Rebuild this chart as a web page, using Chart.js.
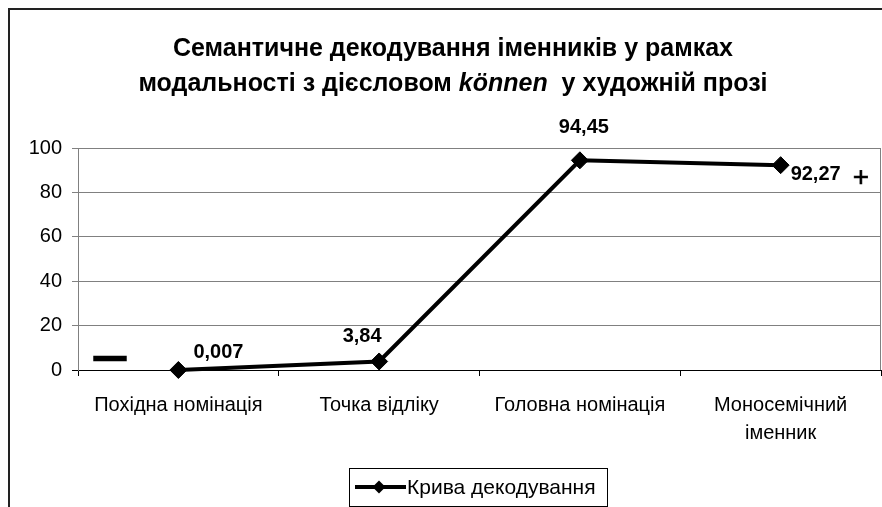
<!DOCTYPE html>
<html><head><meta charset="utf-8">
<script src="https://cdn.jsdelivr.net/npm/chart.js@4.4.0/dist/chart.umd.min.js"></script>
<style>
html,body{margin:0;padding:0;background:#fff;width:882px;height:507px;overflow:hidden;}
#wrap{position:relative;width:882px;height:507px;}
#title{position:absolute;left:0;top:30px;width:906px;text-align:center;font:bold 25px "Liberation Sans",Arial,sans-serif;line-height:35px;color:#000;}
canvas{position:absolute;left:0;top:0;}
</style></head><body>
<div id="wrap"><canvas id="c" width="882" height="507"></canvas>
<div id="title">Семантичне декодування іменників у рамках<br>модальності з дієсловом <i>können</i>&nbsp; у художній прозі</div></div>
<script>
const categories = ['Похідна номінація', 'Точка відліку', 'Головна номінація', ['Моносемічний', 'іменник']];
const seriesName = 'Крива декодування';
const decodingValues = [0.007, 3.84, 94.45, 92.27];
const yTickValues = [0, 20, 40, 60, 80, 100];
const sideMarks = ['—', '+'];

const FONT = '"Liberation Sans", Arial, sans-serif';
const labelPlacement = [
  {dx: 15, dy: -18, align: 'left'},
  {dx: -17, dy: -25, align: 'center'},
  {dx: 4, dy: -33, align: 'center'},
  {dx: 10, dy: 9, align: 'left'}
];

const decor = {
  id: 'decor',
  beforeDraw(chart) {
    const ctx = chart.ctx;
    ctx.save();
    ctx.fillStyle = '#fff';
    ctx.fillRect(0, 0, chart.width, chart.height);
    ctx.strokeStyle = '#222';
    ctx.lineWidth = 2;
    ctx.beginPath();
    ctx.moveTo(9, 507);
    ctx.lineTo(9, 9);
    ctx.lineTo(882, 9);
    ctx.stroke();
    const a = chart.chartArea;
    ctx.strokeStyle = '#808080';
    ctx.lineWidth = 1;
    ctx.beginPath();
    ctx.moveTo(a.right - 0.5, a.top);
    ctx.lineTo(a.right - 0.5, a.bottom);
    ctx.stroke();
    ctx.restore();
  },
  afterDraw(chart) {
    const ctx = chart.ctx;
    const meta = chart.getDatasetMeta(0);
    ctx.save();
    ctx.fillStyle = '#000';
    ctx.font = 'bold 20px ' + FONT;
    ctx.textBaseline = 'middle';
    meta.data.forEach((pt, i) => {
      const p = labelPlacement[i];
      ctx.textAlign = p.align;
      const txt = String(decodingValues[i]).replace('.', ',');
      ctx.fillText(txt, pt.x + p.dx, pt.y + p.dy);
    });
    ctx.textAlign = 'center';
    ctx.font = 'bold 31px ' + FONT;
    ctx.lineWidth = 2.5;
    ctx.strokeStyle = '#000';
    ctx.fillText(sideMarks[0], 110, 358);
    ctx.strokeText(sideMarks[0], 110, 358);
    ctx.font = '28px ' + FONT;
    ctx.lineWidth = 0.6;
    ctx.fillText(sideMarks[1], 861, 178);
    ctx.strokeText(sideMarks[1], 861, 178);
    // legend
    ctx.strokeStyle = '#000';
    ctx.lineWidth = 1;
    ctx.strokeRect(349.5, 468.5, 258, 38);
    ctx.lineWidth = 4;
    ctx.beginPath();
    ctx.moveTo(355, 487);
    ctx.lineTo(406, 487);
    ctx.stroke();
    ctx.beginPath();
    ctx.moveTo(379 - 6.5, 487);
    ctx.lineTo(379, 480.5);
    ctx.lineTo(379 + 6.5, 487);
    ctx.lineTo(379, 493.5);
    ctx.closePath();
    ctx.fill();
    ctx.textAlign = 'left';
    ctx.font = '21px ' + FONT;
    ctx.fillText(chart.data.datasets[0].label, 407, 488);
    ctx.restore();
  }
};

new Chart(document.getElementById('c'), {
  type: 'line',
  data: {
    labels: categories,
    datasets: [{
      label: seriesName,
      data: decodingValues,
      borderColor: '#000',
      backgroundColor: '#000',
      borderWidth: 4,
      pointStyle: 'rectRot',
      pointRadius: 8.5,
      pointBorderWidth: 1,
      pointBackgroundColor: '#000',
      pointBorderColor: '#000',
      tension: 0,
      clip: false
    }]
  },
  options: {
    responsive: false,
    animation: false,
    devicePixelRatio: 1,
    layout: {autoPadding: false, padding: {top: 148, right: 1, bottom: 67, left: 0}},
    plugins: {legend: {display: false}, title: {display: false}, tooltip: {enabled: false}},
    scales: {
      x: {
        offset: true,
        grid: {display: true, offset: true, drawOnChartArea: false, drawTicks: true, tickLength: 6, color: '#000'},
        border: {display: true, color: '#000', width: 1},
        ticks: {color: '#000', font: {family: FONT, size: 20, lineHeight: 1.4}, padding: 15, maxRotation: 0, autoSkip: false},
        afterFit(s) { s.height = 70; }
      },
      y: {
        min: 0, max: 100,
        afterBuildTicks(s) { s.ticks = yTickValues.map(v => ({value: v})); },
        grid: {color: (c) => (c.tick && c.tick.value === 0) ? '#000' : '#808080', tickLength: 6},
        border: {display: true, color: '#808080', width: 1},
        ticks: {color: '#000', font: {family: FONT, size: 20}, padding: 10},
        afterFit(s) { s.width = 78; }
      }
    }
  },
  plugins: [decor]
});
</script>
</body></html>
